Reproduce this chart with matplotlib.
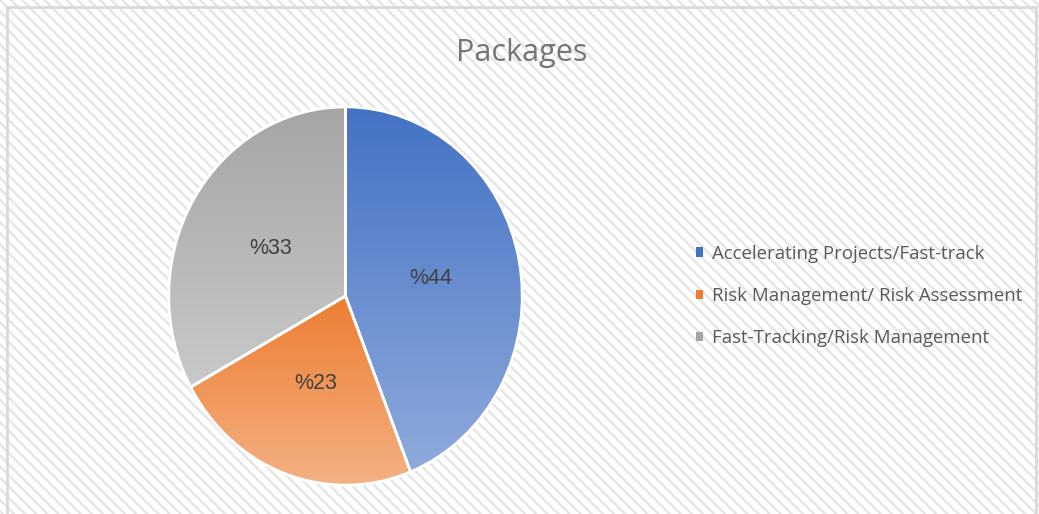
import numpy as np
import matplotlib
matplotlib.use('Agg')
import matplotlib.pyplot as plt
from matplotlib.patches import Rectangle, Patch
from matplotlib.colors import to_rgb

labels = ['Accelerating Projects/Fast-track', 'Risk Management/ Risk Assessment', 'Fast-Tracking/Risk Management']
values = [44, 23, 33]
top_colors = ['#4472C4', '#ED7D31', '#A5A5A5']
bottom_colors = ['#8FAADC', '#F4B183', '#C9C9C9']
title = 'Packages'

W, H = 1039, 514
plt.rcParams['hatch.linewidth'] = 1.8

fig = plt.figure(figsize=(W / 100, H / 100), dpi=100)

# ------ hatched background + border
bg = fig.add_axes([0, 0, 1, 1])
bg.set_xlim(0, W)
bg.set_ylim(H, 0)
bg.axis('off')
bg.add_patch(Rectangle((0, 0), W, H, facecolor='white', edgecolor='#E6E6E6', lw=0, hatch='\\\\\\'))
bg.add_patch(Rectangle((7, 7), 1029, 520, facecolor='none', edgecolor='#D9D9D9', lw=2))

bg.text(522, 53, title, fontsize=22, color='#757575', family='Open Sans', ha='center', va='center')

# ------ pie
ax = fig.add_axes([167 / W, 1 - 487 / H, 357 / W, 382 / H])
wedges, texts, autotexts = ax.pie(values, startangle=90, counterclock=False, radius=1,
                                  autopct=lambda p: '%{:.0f}'.format(p), pctdistance=0.49,
                                  wedgeprops=dict(edgecolor='white', linewidth=2),
                                  textprops=dict(fontsize=15.5, color='#404040', family='Liberation Sans'))
ax.set_aspect('auto')
ax.axis('off')

for w, c0, c1 in zip(wedges, top_colors, bottom_colors):
    t = np.radians(np.linspace(w.theta1, w.theta2, 200))
    xs = np.concatenate([[0], np.cos(t)])
    ys = np.concatenate([[0], np.sin(t)])
    g = np.linspace(0, 1, 256)[:, None, None]
    img = np.array(to_rgb(c1)) * (1 - g) + np.array(to_rgb(c0)) * g
    im = ax.imshow(img, extent=(xs.min(), xs.max(), ys.min(), ys.max()), origin='lower',
                   aspect='auto', zorder=0.5)
    im.set_clip_path(w)
    w.set_facecolor('none')
    w.set_zorder(1)
for tx in autotexts:
    tx.set_zorder(3)

ax.set_xlim(-1.01, 1.01)
ax.set_ylim(-1.01, 1.01)

# ------ legend
handles = [Patch(facecolor=c, edgecolor='none') for c in top_colors]
fig.legend(handles, labels, loc='center left', bbox_to_anchor=(679 / W, 1 - 296 / H),
           frameon=False, labelcolor='#595959', handlelength=0.4, handleheight=0.4,
           handletextpad=0.5, labelspacing=1.3, prop=dict(family='Open Sans', size=13.4))

fig.savefig('out.png', dpi=100)
